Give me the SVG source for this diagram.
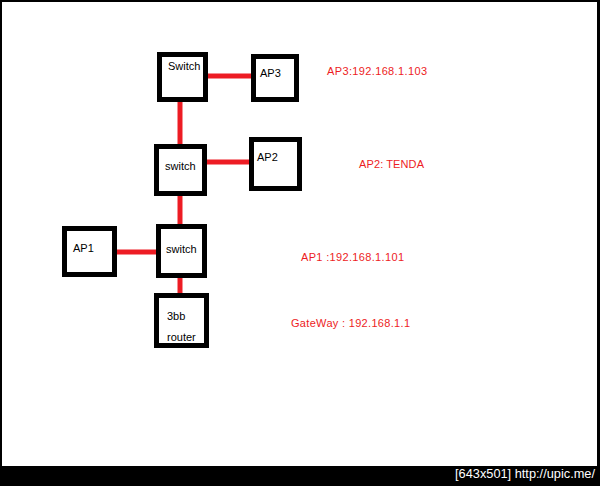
<svg xmlns="http://www.w3.org/2000/svg" width="600" height="486" viewBox="0 0 600 486">
<style>
.box{fill:#fff;stroke:#000;stroke-width:5}
.lbl{font-family:"Liberation Sans",Arial,sans-serif;font-size:11px;fill:#000}
.note{font-family:"Liberation Sans",Arial,sans-serif;font-size:11px;fill:#ed1c24}
.link{stroke:#ed1c24;stroke-width:5;fill:none}
</style>
<rect x="0" y="0" width="600" height="486" fill="#fff"/>
<rect x="0" y="0" width="600" height="2" fill="#000"/>
<rect x="0" y="0" width="2" height="486" fill="#000"/>
<rect x="597" y="0" width="3" height="486" fill="#000"/>
<rect x="0" y="466" width="600" height="20" fill="#000"/>
<text x="455" y="478" font-family="'Liberation Sans',Arial,sans-serif" font-size="12" fill="#fff" textLength="140" lengthAdjust="spacingAndGlyphs">[643x501] http://upic.me/</text>
<g id="connectors">
<line class="link" x1="208" y1="76" x2="251" y2="76"/>
<line class="link" x1="180" y1="102" x2="180" y2="144"/>
<line class="link" x1="207" y1="162" x2="249" y2="162"/>
<line class="link" x1="180" y1="196" x2="180" y2="224"/>
<line class="link" x1="117" y1="252" x2="156" y2="252"/>
<line class="link" x1="180" y1="278" x2="180" y2="293"/>
</g>
<g id="switch-top"><rect class="box" x="159.5" y="54.5" width="46" height="45"/><text class="lbl" x="168" y="70">Switch</text></g>
<g id="ap3"><rect class="box" x="253.5" y="56.5" width="43" height="43"/><text class="lbl" x="260" y="77">AP3</text></g>
<g id="switch-mid"><rect class="box" x="156.5" y="146.5" width="48" height="47"/><text class="lbl" x="165" y="170">switch</text></g>
<g id="ap2"><rect class="box" x="251.5" y="139.5" width="48" height="49"/><text class="lbl" x="257" y="161">AP2</text></g>
<g id="ap1"><rect class="box" x="64.5" y="228.5" width="50" height="46"/><text class="lbl" x="73" y="252">AP1</text></g>
<g id="switch-bottom"><rect class="box" x="158.5" y="226.5" width="46" height="49"/><text class="lbl" x="166" y="253">switch</text></g>
<g id="router"><rect class="box" x="156.5" y="295.5" width="50" height="50"/><text class="lbl" x="167" y="320">3bb</text><text class="lbl" x="167" y="341">router</text></g>
<g id="notes">
<text class="note" x="327" y="75" textLength="100">AP3:192.168.1.103</text>
<text class="note" x="359" y="168" textLength="65">AP2: TENDA</text>
<text class="note" x="301" y="261" textLength="103">AP1 :192.168.1.101</text>
<text class="note" x="291" y="327" textLength="119">GateWay : 192.168.1.1</text>
</g>
</svg>
